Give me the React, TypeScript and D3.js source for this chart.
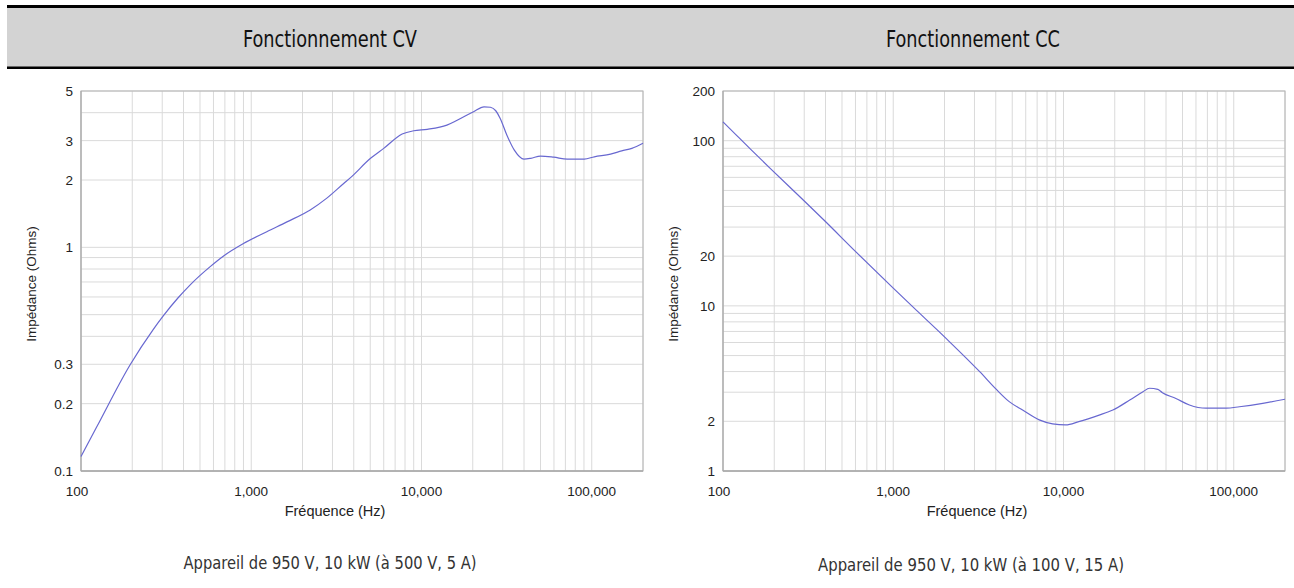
import React from "react";
import * as d3 from "d3";

// ---- Data ----
const headerTitles = ["Fonctionnement CV", "Fonctionnement CC"];
const captions = [
  "Appareil de 950 V, 10 kW (à 500 V, 5 A)",
  "Appareil de 950 V, 10 kW (à 100 V, 15 A)",
];
const xTitle = "Fréquence (Hz)";
const yTitle = "Impédance (Ohms)";

const xTickValues = [100, 1000, 10000, 100000];

const cvFreq = [100, 124, 194, 266, 305, 372, 438, 574, 688, 900, 1234, 1620, 2220, 2780, 3490, 3830, 5020, 6000, 7700, 9000, 10800, 14100, 16200, 20200, 23300, 25400, 27300, 29000, 31700, 35100, 40000, 43800, 50000, 59800, 71800, 90400, 103500, 129000, 150000, 172000, 200000];
const cvImpedance = [0.116, 0.158, 0.298, 0.43, 0.495, 0.595, 0.68, 0.82, 0.915, 1.04, 1.175, 1.3, 1.47, 1.66, 1.93, 2.05, 2.5, 2.77, 3.21, 3.32, 3.37, 3.52, 3.7, 4.04, 4.25, 4.23, 4.08, 3.77, 3.18, 2.72, 2.48, 2.5, 2.56, 2.53, 2.48, 2.48, 2.54, 2.61, 2.7, 2.77, 2.92];
const cvYDomain = [0.1, 5];
const cvYTicks = [0.1, 0.2, 0.3, 1, 2, 3, 5];

const ccFreq = [100, 121, 145, 190, 297, 390, 610, 1000, 1375, 1800, 2050, 3230, 4020, 4800, 5750, 7200, 8630, 10300, 12300, 16200, 19500, 24500, 29300, 32000, 35800, 38100, 45700, 54900, 68700, 90400, 108000, 148000, 200000];
const ccImpedance = [130, 107, 89, 67.8, 43.6, 33.2, 21, 12.8, 9.35, 7.2, 6.33, 3.98, 3.13, 2.63, 2.34, 2.04, 1.93, 1.9, 1.99, 2.18, 2.34, 2.69, 3.02, 3.17, 3.12, 2.98, 2.75, 2.51, 2.4, 2.4, 2.45, 2.57, 2.72];
const ccYDomain = [1, 200];
const ccYTicks = [1, 2, 10, 20, 100, 200];

const xDomain = [100, 200000];

function logGrid(lo: number, hi: number): number[] {
  const out: number[] = [];
  let dec = Math.pow(10, Math.floor(Math.log10(lo)));
  while (dec <= hi) {
    for (let k = 1; k <= 9; k++) {
      const v = k * dec;
      if (v >= lo * 0.9999 && v <= hi * 1.0001) out.push(v);
    }
    dec *= 10;
  }
  return out;
}

const fmtX = (v: number) => d3.format(",")(v);

interface ChartProps {
  left: number;
  freq: number[];
  imp: number[];
  yDomain: number[];
  yTicks: number[];
}

function Chart({ left, freq, imp, yDomain, yTicks }: ChartProps) {
  const top = 91;
  const bottom = 471;
  const width = 562;
  const x = d3.scaleLog().domain(xDomain).range([left, left + width]);
  const y = d3.scaleLog().domain(yDomain).range([bottom, top]);
  const xs = logGrid(xDomain[0], xDomain[1]);
  const ys = logGrid(yDomain[0], yDomain[1]);
  const pts: [number, number][] = freq.map((f, i) => [x(f), y(imp[i])]);
  const line = d3.line().curve(d3.curveMonotoneX)(pts) || "";
  const font = "'Liberation Sans', Arial, sans-serif";
  return (
    <g>
      {xs.map((v) => (
        <line key={"gx" + v} x1={x(v)} x2={x(v)} y1={top} y2={bottom} stroke="#dadada" strokeWidth={1} />
      ))}
      {ys.map((v) => (
        <line key={"gy" + v} x1={left} x2={left + width} y1={y(v)} y2={y(v)} stroke="#dadada" strokeWidth={1} />
      ))}
      <rect x={left} y={top} width={width} height={bottom - top} fill="none" stroke="#b4b4b4" strokeWidth={1} />
      <line x1={left} x2={left + width} y1={bottom} y2={bottom} stroke="#a8a8a8" strokeWidth={1.5} />
      <line x1={left} x2={left} y1={top} y2={bottom} stroke="#a8a8a8" strokeWidth={1} />
      <path d={line} fill="none" stroke="#6868d0" strokeWidth={1.2} />
      {xTickValues.map((v, i) => (
        <text key={"tx" + v} x={x(v) - (i === 0 ? 4 : 0)} y={496} textAnchor="middle" fontFamily={font} fontSize={13.5} fill="#222">
          {fmtX(v)}
        </text>
      ))}
      {yTicks.map((v) => (
        <text key={"ty" + v} x={left - 8} y={y(v) + 5} textAnchor="end" fontFamily={font} fontSize={13.5} fill="#222">
          {String(v)}
        </text>
      ))}
      <text x={left + 254} y={516} textAnchor="middle" fontFamily={font} fontSize={14.5} fill="#222">
        {xTitle}
      </text>
      <text transform={`translate(${left - 45},284) rotate(-90)`} textAnchor="middle" fontFamily={font} fontSize={13.5} fill="#222">
        {yTitle}
      </text>
    </g>
  );
}

export default function App() {
  const condensed = "'DejaVu Sans Condensed', 'DejaVu Sans', sans-serif";
  const centers = [330, 973];
  return (
    <svg width={1294} height={588} style={{ position: "absolute", left: 0, top: 0, background: "#fff" }}>
      <rect x={0} y={0} width={1294} height={588} fill="#fff" />
      <rect x={7} y={8} width={1287} height={59} fill="#d3d3d3" />
      <rect x={7} y={5} width={1287} height={3} fill="#000" />
      <rect x={7} y={66.5} width={1287} height={2.5} fill="#000" />
      {headerTitles.map((t, i) => (
        <text key={t} x={centers[i]} y={47} textAnchor="middle" fontFamily={condensed} fontSize={23} fill="#111" textLength={174} lengthAdjust="spacingAndGlyphs">
          {t}
        </text>
      ))}
      <Chart left={81} freq={cvFreq} imp={cvImpedance} yDomain={cvYDomain} yTicks={cvYTicks} />
      <Chart left={723} freq={ccFreq} imp={ccImpedance} yDomain={ccYDomain} yTicks={ccYTicks} />
      <text x={centers[0]} y={569} textAnchor="middle" fontFamily={condensed} fontSize={18} fill="#333" textLength={293} lengthAdjust="spacingAndGlyphs">
        {captions[0]}
      </text>
      <text x={centers[1] - 2} y={571} textAnchor="middle" fontFamily={condensed} fontSize={18} fill="#333" textLength={306} lengthAdjust="spacingAndGlyphs">
        {captions[1]}
      </text>
    </svg>
  );
}
